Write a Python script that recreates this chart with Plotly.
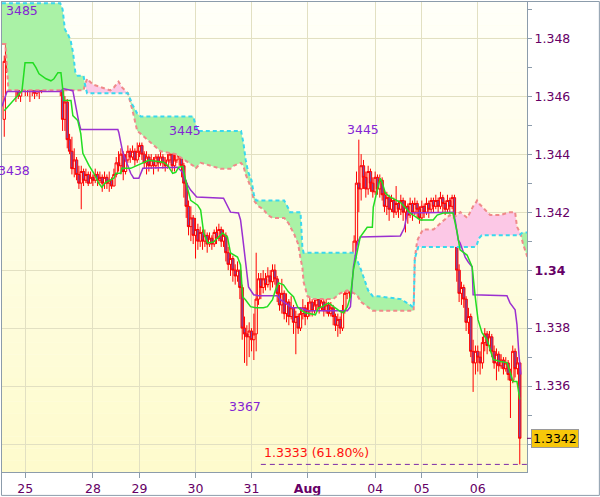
import plotly.graph_objects as go

# ---------------- data (hourly bars, bar index 0..221) ----------------
first_open = 1.3452
close = [
 1.3472,1.3478,1.3480,1.3468,1.3474,1.3466,1.3460,1.3465,1.3470,1.3463,
 1.3467,1.3462,1.3464,1.3461,1.3463,1.3462,1.3465,1.3464,1.3466,1.3464,
 1.3466,1.3468,1.3466,1.3474,1.3462,1.3452,1.3458,1.3445,1.3441,1.3435,
 1.3438,1.3433,1.3430,1.3434,1.3431,1.3433,1.3430,1.3432,1.3431,1.3433,
 1.3431,1.3432,1.3430,1.3432,1.3430,1.3431,1.3429,1.3433,1.3437,1.3436,
 1.3440,1.3434,1.3438,1.3441,1.3439,1.3441,1.3438,1.3441,1.3443,1.3440,
 1.3437,1.3439,1.3436,1.3438,1.3436,1.3439,1.3437,1.3439,1.3437,1.3436,
 1.3438,1.3440,1.3436,1.3438,1.3442,1.3439,1.3436,1.3430,1.3422,1.3415,
 1.3418,1.3412,1.3414,1.3410,1.3413,1.3410,1.3412,1.3409,1.3411,1.3409,
 1.3413,1.3411,1.3414,1.3410,1.3412,1.3406,1.3402,1.3404,1.3400,1.3398,
 1.3400,1.3394,1.3380,1.3378,1.3377,1.3379,1.3376,1.3378,1.3390,1.3397,
 1.3394,1.3397,1.3395,1.3398,1.3396,1.3400,1.3397,1.3392,1.3388,1.3392,
 1.3385,1.3389,1.3384,1.3387,1.3382,1.3384,1.3380,1.3385,1.3387,1.3384,
 1.3386,1.3389,1.3386,1.3388,1.3390,1.3387,1.3389,1.3386,1.3388,1.3385,
 1.3387,1.3384,1.3381,1.3383,1.3380,1.3386,1.3392,1.3395,1.3393,1.3398,
 1.3410,1.3430,1.3428,1.3436,1.3432,1.3428,1.3434,1.3430,1.3427,1.3432,
 1.3428,1.3431,1.3426,1.3422,1.3425,1.3421,1.3424,1.3420,1.3423,1.3421,
 1.3424,1.3420,1.3422,1.3419,1.3423,1.3420,1.3423,1.3421,1.3418,1.3422,
 1.3420,1.3423,1.3421,1.3424,1.3422,1.3424,1.3422,1.3425,1.3423,1.3421,
 1.3424,1.3422,1.3425,1.3412,1.3400,1.3392,1.3394,1.3390,1.3382,1.3384,
 1.3372,1.3368,1.3372,1.3370,1.3368,1.3375,1.3378,1.3374,1.3377,1.3372,
 1.3368,1.3371,1.3367,1.3369,1.3366,1.3368,1.3364,1.3362,1.3372,1.3366,
 1.3368,1.3342]
high = [
 1.3474,1.3486,1.3485,1.3481,1.3482,1.3476,1.3470,1.3470,1.3473,1.3472,
 1.3470,1.3468,1.3466,1.3465,1.3467,1.3465,1.3468,1.3467,1.3470,1.3468,
 1.3469,1.3470,1.3470,1.3477,1.3476,1.3464,1.3460,1.3459,1.3447,1.3446,
 1.3442,1.3439,1.3436,1.3436,1.3435,1.3435,1.3434,1.3434,1.3433,1.3435,
 1.3434,1.3434,1.3433,1.3434,1.3433,1.3434,1.3432,1.3435,1.3439,1.3441,
 1.3442,1.3441,1.3440,1.3443,1.3442,1.3443,1.3442,1.3444,1.3444,1.3444,
 1.3441,1.3441,1.3440,1.3440,1.3439,1.3440,1.3440,1.3441,1.3440,1.3439,
 1.3440,1.3442,1.3441,1.3440,1.3443,1.3445,1.3440,1.3437,1.3431,1.3424,
 1.3422,1.3419,1.3418,1.3416,1.3415,1.3414,1.3414,1.3413,1.3413,1.3412,
 1.3414,1.3415,1.3416,1.3415,1.3414,1.3413,1.3408,1.3406,1.3405,1.3402,
 1.3403,1.3400,1.3395,1.3384,1.3381,1.3382,1.3380,1.3385,1.3406,1.3399,
 1.3399,1.3400,1.3399,1.3401,1.3400,1.3402,1.3402,1.3398,1.3395,1.3397,
 1.3393,1.3392,1.3390,1.3391,1.3388,1.3386,1.3385,1.3387,1.3390,1.3388,
 1.3389,1.3391,1.3390,1.3391,1.3392,1.3391,1.3392,1.3390,1.3392,1.3389,
 1.3389,1.3388,1.3385,1.3385,1.3384,1.3388,1.3394,1.3397,1.3397,1.3401,
 1.3412,1.3434,1.3445,1.3440,1.3438,1.3434,1.3436,1.3435,1.3432,1.3434,
 1.3433,1.3433,1.3432,1.3428,1.3427,1.3426,1.3426,1.3425,1.3429,1.3424,
 1.3426,1.3425,1.3424,1.3423,1.3425,1.3424,1.3425,1.3424,1.3422,1.3424,
 1.3423,1.3425,1.3424,1.3425,1.3425,1.3426,1.3425,1.3427,1.3426,1.3424,
 1.3426,1.3425,1.3426,1.3426,1.3413,1.3402,1.3396,1.3395,1.3391,1.3387,
 1.3385,1.3376,1.3374,1.3374,1.3372,1.3377,1.3380,1.3379,1.3379,1.3378,
 1.3374,1.3373,1.3372,1.3371,1.3370,1.3370,1.3369,1.3366,1.3374,1.3373,
 1.3370,1.3368]
low = [
 1.3446,1.3468,1.3470,1.3462,1.3465,1.3458,1.3459,1.3458,1.3462,1.3460,
 1.3460,1.3458,1.3460,1.3459,1.3460,1.3459,1.3461,1.3462,1.3463,1.3462,
 1.3463,1.3464,1.3464,1.3465,1.3460,1.3448,1.3448,1.3442,1.3440,1.3433,
 1.3432,1.3431,1.3428,1.3421,1.3429,1.3430,1.3429,1.3430,1.3429,1.3430,
 1.3429,1.3430,1.3427,1.3428,1.3428,1.3427,1.3428,1.3429,1.3432,1.3434,
 1.3433,1.3431,1.3433,1.3437,1.3437,1.3438,1.3436,1.3437,1.3439,1.3438,
 1.3435,1.3433,1.3434,1.3435,1.3433,1.3435,1.3434,1.3436,1.3435,1.3434,
 1.3435,1.3437,1.3434,1.3434,1.3437,1.3436,1.3432,1.3425,1.3418,1.3412,
 1.3410,1.3409,1.3404,1.3407,1.3408,1.3407,1.3408,1.3406,1.3408,1.3407,
 1.3408,1.3409,1.3410,1.3408,1.3408,1.3403,1.3400,1.3398,1.3396,1.3395,
 1.3396,1.3390,1.3376,1.3368,1.3367,1.3370,1.3372,1.3369,1.3372,1.3388,
 1.3390,1.3392,1.3393,1.3394,1.3393,1.3394,1.3395,1.3389,1.3386,1.3385,
 1.3383,1.3382,1.3381,1.3383,1.3378,1.3371,1.3378,1.3379,1.3383,1.3381,
 1.3383,1.3384,1.3384,1.3385,1.3386,1.3385,1.3386,1.3384,1.3385,1.3384,
 1.3384,1.3381,1.3379,1.3377,1.3378,1.3379,1.3385,1.3390,1.3390,1.3392,
 1.3396,1.3408,1.3420,1.3424,1.3428,1.3425,1.3426,1.3427,1.3425,1.3426,
 1.3426,1.3425,1.3424,1.3420,1.3419,1.3417,1.3420,1.3418,1.3419,1.3418,
 1.3419,1.3417,1.3413,1.3416,1.3418,1.3417,1.3419,1.3418,1.3416,1.3417,
 1.3418,1.3419,1.3418,1.3420,1.3420,1.3421,1.3420,1.3421,1.3420,1.3419,
 1.3420,1.3420,1.3421,1.3410,1.3396,1.3389,1.3388,1.3387,1.3379,1.3378,
 1.3370,1.3358,1.3364,1.3365,1.3364,1.3366,1.3372,1.3371,1.3372,1.3370,
 1.3366,1.3362,1.3365,1.3366,1.3364,1.3365,1.3362,1.3349,1.3361,1.3363,
 1.3364,1.3333]
open_ = [first_open] + close[:-1]
bar_index = list(range(len(close)))

# conversion line (green) breakpoints
tenkan_idx = [0,3.7,7.6,8.9,12.3,13.6,14.9,17.9,20.0,21.3,23.0,24.3,25.1,25.6,28.6,29.4,31.5,32.8,33.7,35.0,
 36.3,38.4,40.5,41.8,43.5,47.0,47.8,50.0,50.4,54.2,58.5,61.9,68.3,70.1,72.2,73.5,74.8,76.5,78.2,79.9,
 82.9,84.2,85.5,87.2,89.7,91.9,93.6,95.7,97.0,100.0,101.3,102.2,103.4,105.6,107.7,111.1,112.8,115.0,116.3,117.6,
 119.7,121.8,124.0,125.7,127.0,129.1,133.4,134.7,136.4,139.0,141.1,144.1,145.4,147.1,148.4,149.7,152.6,155.6,157.8,158.2,
 159.9,161.2,162.1,163.4,165.5,168.5,169.8,174.0,178.3,183.9,185.6,188.2,192.4,194.2,195.4,198.4,200.6,201.9,203.1,204.8,
 207.0,208.3,209.6,212.6,215.5,216.8,218.1,219.8,221.0]
tenkan_val = [1.34550,1.34585,1.34619,1.34715,1.34715,1.34698,1.34677,1.34660,1.34653,1.34660,1.34681,1.34681,1.34626,1.34585,1.34585,1.34533,1.34516,1.34471,1.34403,1.34379,
 1.34361,1.34334,1.34300,1.34286,1.34303,1.34317,1.34334,1.34334,1.34351,1.34351,1.34368,1.34379,1.34372,1.34361,1.34334,1.34337,1.34355,1.34358,1.34293,1.34241,
 1.34224,1.34207,1.34128,1.34094,1.34097,1.34114,1.34128,1.34114,1.34059,1.34045,1.34018,1.33908,1.33898,1.33874,1.33870,1.33870,1.33874,1.33898,1.33932,1.33956,
 1.33949,1.33925,1.33908,1.33874,1.33863,1.33853,1.33846,1.33870,1.33874,1.33887,1.33874,1.33857,1.33853,1.33874,1.33908,1.34001,1.34114,1.34148,1.34148,1.34217,
 1.34276,1.34317,1.34300,1.34265,1.34252,1.34241,1.34234,1.34197,1.34173,1.34173,1.34190,1.34197,1.34197,1.34128,1.34070,1.34052,1.34011,1.33908,1.33829,1.33784,
 1.33760,1.33726,1.33692,1.33685,1.33681,1.33650,1.33616,1.33616,1.33554]

# base line (purple) breakpoints
kijun_idx = [-1.0,1.2,24.3,25.1,29.4,30.7,32.0,32.8,48.7,49.1,50.8,52.1,54.2,55.5,57.7,59.4,74.3,76.5,78.6,79.9,
 82.5,94.0,97.0,100.4,101.3,102.2,103.4,104.7,106.9,109.0,117.1,118.4,121.4,123.5,127.0,130.0,147.1,148.4,149.7,151.4,
 152.6,169.8,171.5,172.8,192.4,193.3,194.6,195.4,197.6,198.9,200.6,201.0,215.5,216.8,219.0,219.8,220.7,221.5]
kijun_val = [1.34564,1.34616,1.34616,1.34626,1.34619,1.34561,1.34509,1.34485,1.34485,1.34475,1.34406,1.34379,1.34334,1.34317,1.34317,1.34351,1.34355,1.34337,1.34293,1.34276,
 1.34252,1.34248,1.34200,1.34197,1.34173,1.34114,1.34025,1.33942,1.33915,1.33912,1.33912,1.33898,1.33881,1.33870,1.33870,1.33860,1.33860,1.33874,1.34011,1.34094,
 1.34114,1.34118,1.34145,1.34197,1.34200,1.34173,1.34104,1.34094,1.34045,1.34028,1.34011,1.33915,1.33912,1.33887,1.33863,1.33812,1.33702,1.33640]

# leading spans (cloud), shared breakpoints
cloud_idx = [-1,0.5,1.8,24,25,25.5,26,27.5,28.5,29.5,30.5,31.5,34,34.6,35.5,38,41.5,45.5,47,49,
 50.5,53,55,57,58.5,62.8,67,73.5,77.5,81,82,83,84.2,88.5,92.7,97,98.3,101.5,102.5,103.5,
 104.5,106,107,108,109,111,113,115,117,120,122,122.5,124,126,127,127.8,128.3,130,132.5,138.5,
 141,144,147,150,151.5,153,156,158,160,170,174,175.5,176,177,177.5,179.5,184,188,191,192.5,
 195.5,198.5,201,202,202.7,203.5,204.7,208.3,212.6,216.8,219,219.8,221,221.4,222.4,224.5]
span_a = [1.3492,1.3492,1.3492,1.3492,1.3490,1.3486,1.3483,1.3481,1.3479,1.3475,1.3468,1.3467,1.3467,1.3464,1.3461,1.3461,1.3461,1.3461,1.3461,1.3461,
 1.3461,1.3461,1.3457,1.3454,1.3453,1.3453,1.3453,1.3453,1.3453,1.3453,1.3450,1.3448,1.3448,1.3448,1.3448,1.3448,1.3448,1.3448,1.3444,1.3438,
 1.3434,1.3431,1.3426,1.3424,1.3424,1.3424,1.3424,1.3424,1.3424,1.3424,1.3421,1.3420,1.3420,1.3420,1.3420,1.3408,1.3406,1.3406,1.3406,1.3406,
 1.3406,1.3406,1.3406,1.3406,1.3403,1.3400,1.3393,1.3391,1.3391,1.3390,1.3388,1.3387,1.3404,1.3407,1.3408,1.3408,1.3408,1.3408,1.3408,1.3408,
 1.3408,1.3408,1.3408,1.3408,1.3409,1.3411,1.3412,1.3412,1.3412,1.3412,1.3412,1.3412,1.3412,1.34125,1.3413,1.3413]
span_b = [1.3478,1.3478,1.3462,1.3462,1.3462,1.3462,1.3462,1.3462,1.3462,1.3462,1.3462,1.3462,1.3462,1.3464,1.3466,1.3464,1.3463,1.3462,1.3463,1.3465,
 1.3463,1.3461,1.3455,1.3448,1.3447,1.3444,1.3441,1.3440,1.3438,1.3436,1.3435,1.3436,1.3437,1.3436,1.3435,1.3435,1.3436,1.3437,1.3436,1.3433,
 1.3431,1.3428,1.3424,1.3423,1.3422,1.3421,1.3419,1.3418,1.3418,1.3418,1.3416,1.3415,1.3413,1.3409,1.3404,1.3401,1.3396,1.3391,1.3390,1.3390,
 1.3390,1.3392,1.3393,1.3392,1.3391,1.3389,1.3387,1.3386,1.3386,1.3386,1.3386,1.3386,1.3404,1.3410,1.3411,1.3414,1.3414,1.3417,1.3419,1.3418,
 1.3420,1.3418,1.3422,1.3423,1.3424,1.3423,1.3422,1.3419,1.3419,1.3420,1.3420,1.3415,1.3413,1.34125,1.3409,1.3404]

day_ticks = [9, 38, 58, 82, 106, 130, 159, 179, 203]
day_labels = ["25", "28", "29", "30", "31", "<b>Aug</b>", "04", "05", "06"]
price_ticks = [1.334, 1.336, 1.338, 1.340, 1.342, 1.344, 1.346, 1.348]
price_labels = ["", "1.336", "1.338", "<b>1.34</b>", "1.342", "1.344", "1.346", "1.348"]
fib_level = 1.3333
fib_text = "1.3333 (61.80%)"
fib_start_bar = 110
extreme_labels = [("3485", 7.6, 1.348937), ("3438", 4.2, 1.343443), ("3445", 77.3, 1.344817),
                  ("3445", 153.9, 1.344851), ("3367", 103.4, 1.335300)]

# ---------------- layout constants ----------------
W, H = 600, 497
ML, MR, MT, MB = 1, 73, 1, 24
X_RANGE = [-0.97, 224.1]
Y_RANGE = [1.333038, 1.349247]
FONT = "DejaVu Sans"
AXIS_COL = "#8c9cab"
LABEL_COL = "#660066"

fig = go.Figure()

# cloud fills
upper = [max(a, b) for a, b in zip(span_a, span_b)]
fig.add_trace(go.Scatter(x=cloud_idx, y=span_b, mode="lines", line=dict(width=0), hoverinfo="skip", showlegend=False))
fig.add_trace(go.Scatter(x=cloud_idx, y=upper, mode="lines", line=dict(width=0), fill="tonexty",
                         fillcolor="#aaf2a6", hoverinfo="skip", showlegend=False))
fig.add_trace(go.Scatter(x=cloud_idx, y=span_a, mode="lines", line=dict(width=0), hoverinfo="skip", showlegend=False))
fig.add_trace(go.Scatter(x=cloud_idx, y=upper, mode="lines", line=dict(width=0), fill="tonexty",
                         fillcolor="#fcc8e6", hoverinfo="skip", showlegend=False))
# span lines
fig.add_trace(go.Scatter(x=cloud_idx, y=span_b, mode="lines", line=dict(color="#f08a8a", width=2, dash="4px,3px"),
                         hoverinfo="skip", showlegend=False))
fig.add_trace(go.Scatter(x=cloud_idx, y=span_a, mode="lines", line=dict(color="#3ad8ee", width=2, dash="4px,3px"),
                         hoverinfo="skip", showlegend=False))

# fib level
fig.add_trace(go.Scatter(x=[fib_start_bar, X_RANGE[1]], y=[fib_level, fib_level], mode="lines",
                         line=dict(color="#7a2aa8", width=1, dash="5px,4px"), hoverinfo="skip", showlegend=False))

# candles
fig.add_trace(go.Candlestick(
    x=bar_index, open=open_, high=high, low=low, close=close,
    increasing=dict(line=dict(color="#ff0000", width=1), fillcolor="rgba(255,255,255,0)"),
    decreasing=dict(line=dict(color="#ff0000", width=1), fillcolor="#7a4aa6"),
    whiskerwidth=0, hoverinfo="skip", showlegend=False))

# lines
fig.add_trace(go.Scatter(x=kijun_idx, y=kijun_val, mode="lines", line=dict(color="#9b30d0", width=1.5),
                         hoverinfo="skip", showlegend=False))
fig.add_trace(go.Scatter(x=tenkan_idx, y=tenkan_val, mode="lines", line=dict(color="#22dd22", width=1.5),
                         hoverinfo="skip", showlegend=False))

# background gradient bands
shapes = []
n_bands = 40
top_rgb = (255, 255, 249)
bot_rgb = (254, 251, 204)
span = Y_RANGE[1] - Y_RANGE[0]
for k in range(n_bands):
    t = (k + 0.5) / n_bands
    col = tuple(round(bot_rgb[j] + (top_rgb[j] - bot_rgb[j]) * t) for j in range(3))
    shapes.append(dict(type="rect", xref="paper", yref="y", x0=0, x1=1,
                       y0=Y_RANGE[0] + span * k / n_bands, y1=Y_RANGE[0] + span * (k + 1) / n_bands,
                       fillcolor="rgb(%d,%d,%d)" % col, line=dict(width=0), layer="below"))
# outer border of the whole picture
pw, ph = W - ML - MR, H - MT - MB
shapes.append(dict(type="rect", xref="paper", yref="paper",
                   x0=-(ML - 0.5) / pw, x1=1 + (MR - 0.5) / pw,
                   y0=-(MB - 0.5) / ph, y1=1 + (MT - 0.5) / ph,
                   line=dict(color=AXIS_COL, width=1), layer="above"))
# little connector to the last-price box
shapes.append(dict(type="line", xref="paper", yref="y", x0=1, x1=1 + 4 / pw,
                   y0=close[-1], y1=close[-1], line=dict(color=LABEL_COL, width=1)))

annotations = []
for txt, xi, yv in extreme_labels:
    annotations.append(dict(text=txt, x=xi, y=yv, xref="x", yref="y", showarrow=False,
                            font=dict(family=FONT, size=12.5, color="#8424d4"),
                            xanchor="center", yanchor="middle"))
annotations.append(dict(text=fib_text, x=fib_start_bar, y=fib_level, xref="x", yref="y", showarrow=False,
                        xanchor="left", yanchor="bottom", xshift=1, yshift=2,
                        font=dict(family=FONT, size=12.5, color="#ff1010")))
annotations.append(dict(text="%.4f" % close[-1], x=1, y=close[-1], xref="paper", yref="y", showarrow=False,
                        xanchor="left", yanchor="middle", xshift=4,
                        bgcolor="#f7c70a", bordercolor="#9a9a9a", borderwidth=1, borderpad=1,
                        font=dict(family=FONT, size=12.5, color="#000000")))

fig.update_layout(
    width=W, height=H, margin=dict(l=ML, r=MR, t=MT, b=MB),
    paper_bgcolor="#ffffff", plot_bgcolor="#fffee8",
    boxgap=0.0, boxgroupgap=0.0,
    shapes=shapes, annotations=annotations, showlegend=False,
    xaxis=dict(range=X_RANGE, tickmode="array", tickvals=day_ticks, ticktext=day_labels,
               showgrid=True, gridcolor="#e2e0c2", gridwidth=1, zeroline=False,
               ticks="outside", ticklen=5, tickcolor=AXIS_COL,
               showline=True, linecolor=AXIS_COL, linewidth=1, mirror=True,
               tickfont=dict(family=FONT, size=12.5, color=LABEL_COL),
               rangeslider=dict(visible=False)),
    yaxis=dict(range=Y_RANGE, side="right", tickmode="array", tickvals=price_ticks, ticktext=price_labels,
               showgrid=True, gridcolor="#e2e0c2", gridwidth=1, zeroline=False,
               ticks="outside", ticklen=4, tickcolor=AXIS_COL,
               minor=dict(tickvals=[1.333, 1.335, 1.337, 1.339, 1.341, 1.343, 1.345, 1.347, 1.349],
                          ticks="outside", ticklen=4, tickcolor=AXIS_COL, showgrid=False),
               showline=True, linecolor=AXIS_COL, linewidth=1, mirror=True,
               tickfont=dict(family=FONT, size=12.5, color=LABEL_COL)),
)

fig.write_html("out.html", config={"displayModeBar": False},
               post_script="document.body.style.margin='0';document.body.style.padding='0';")
